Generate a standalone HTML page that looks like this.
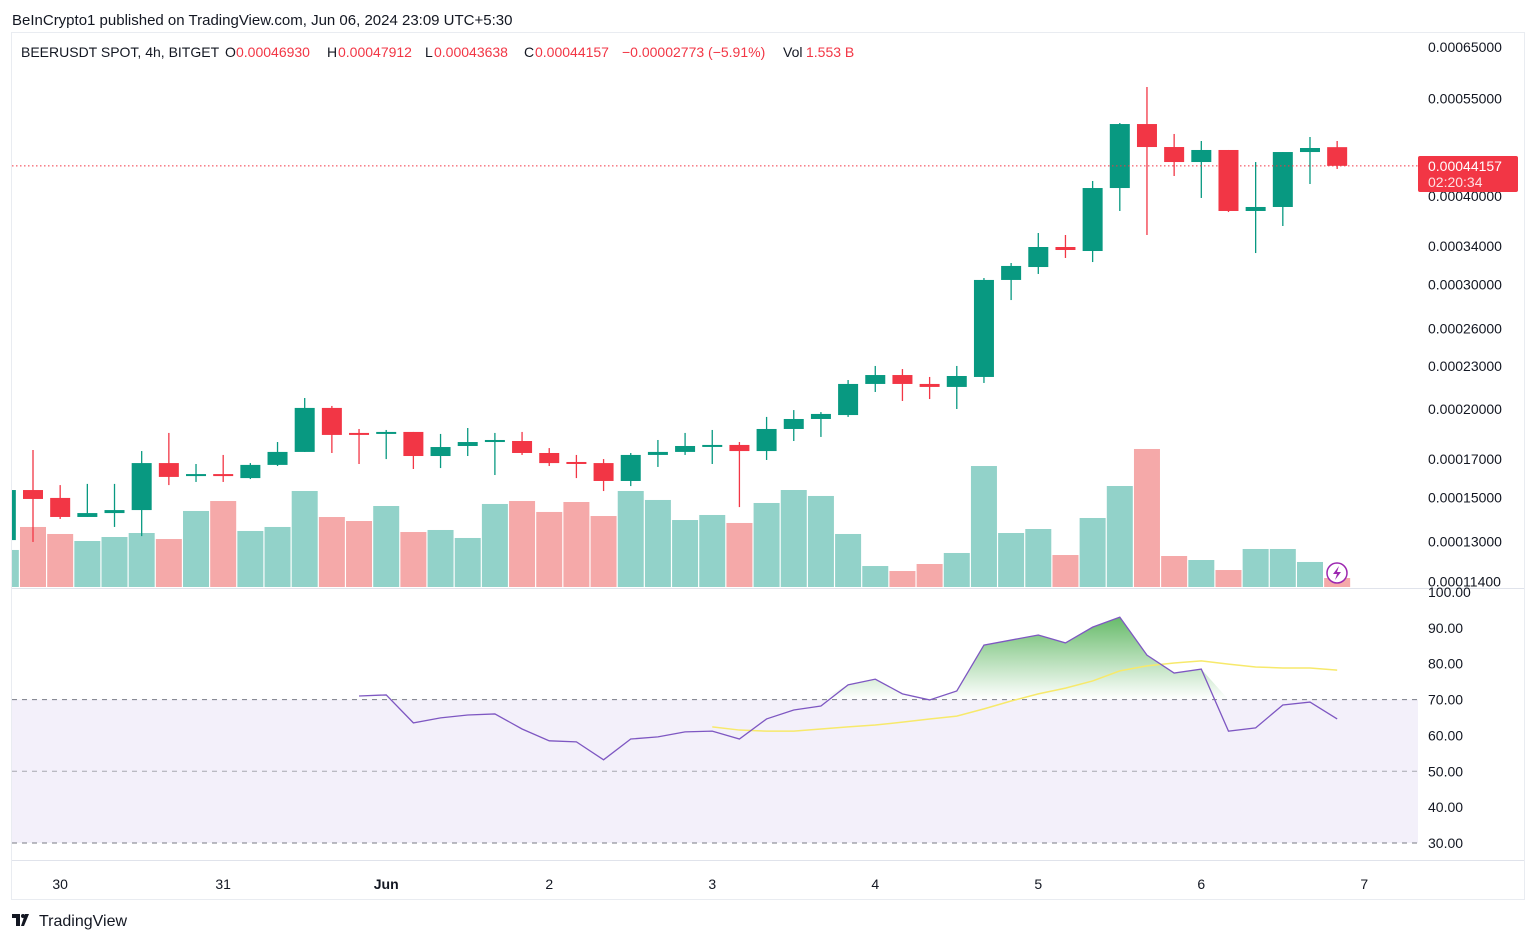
<!DOCTYPE html>
<html><head><meta charset="utf-8">
<style>
html,body{margin:0;padding:0;background:#fff;width:1536px;height:941px;overflow:hidden;font-family:"Liberation Sans",sans-serif;}
svg{position:absolute;left:0;top:0}
</style></head>
<body>
<svg id="c" width="1536" height="941" xmlns="http://www.w3.org/2000/svg"></svg>
<script>
// ---- data (prices ×1e-5) ----
const opens=[13.05,15.36,14.97,14.07,14.25,14.39,16.77,16.08,16.18,15.97,16.67,17.39,20.07,18.50,18.44,18.56,17.16,17.73,17.96,18.02,17.33,16.83,16.77,15.82,17.22,17.39,17.73,17.79,17.44,18.74,19.36,19.61,21.70,22.34,21.70,21.49,22.20,30.45,31.76,33.90,33.46,41.08,50.60,46.95,44.71,46.50,38.12,38.62,46.19,46.93];
const highs=[15.36,17.50,15.61,15.67,15.67,17.44,18.50,16.72,17.22,16.77,17.96,20.73,20.20,18.74,18.68,18.56,18.44,18.80,18.50,18.56,17.61,17.22,16.99,17.33,18.08,18.50,18.68,17.96,19.49,19.93,19.80,21.98,23.01,22.78,22.20,23.01,30.64,32.18,35.48,35.25,42.03,50.77,57.09,48.99,47.88,46.50,44.71,46.19,48.51,47.88];
const lows=[13.05,12.97,13.98,14.07,13.62,13.22,15.61,15.77,15.77,15.92,16.61,17.39,17.33,16.72,16.99,16.45,16.50,17.16,16.13,17.22,16.61,15.97,15.31,15.56,16.56,17.22,16.72,14.53,16.94,18.02,18.26,19.49,21.14,20.53,20.66,20.00,21.77,28.52,31.05,32.71,32.28,38.12,35.25,42.72,39.77,37.99,33.24,36.30,41.62,43.71];
const closes=[15.36,14.92,14.07,14.25,14.39,16.77,16.03,16.18,16.08,16.67,17.39,20.07,18.38,18.44,18.56,17.16,17.67,17.96,18.08,17.33,16.77,16.77,15.82,17.22,17.39,17.73,17.79,17.44,18.74,19.36,19.68,21.70,22.34,21.70,21.49,22.27,30.45,31.87,33.90,33.57,41.08,50.60,46.95,44.71,46.50,38.12,38.62,46.19,46.80,44.16];
const volumes=[6.39,10.36,9.15,7.94,8.63,9.32,8.28,13.12,14.84,9.67,10.36,16.57,12.08,11.39,13.98,9.49,9.84,8.46,14.33,14.84,12.95,14.67,12.25,16.57,15.02,11.56,12.43,11.05,14.50,16.74,15.71,9.15,3.62,2.76,3.97,5.87,20.88,9.32,10.01,5.52,11.91,17.43,23.82,5.35,4.66,2.93,6.56,6.56,4.32,1.553];
const rsiStart=13;
const rsi=[71.0,71.3,63.5,64.9,65.7,66.0,61.8,58.5,58.2,53.2,59.0,59.6,61.0,61.2,59.0,64.6,67.1,68.2,74.1,75.7,71.6,69.9,72.4,85.2,86.6,88.0,85.8,90.2,93.0,82.4,77.4,78.5,61.2,62.1,68.5,69.3,64.6];
const maStart=26;
const rsiMA=[62.4,61.5,61.2,61.2,61.8,62.4,62.9,63.7,64.6,65.4,67.4,69.6,71.6,73.2,75.2,78.0,79.4,80.2,80.8,79.9,79.1,78.8,78.8,78.2];
const priceTicks=[65,55,40,34,30,26,23,20,17,15,13,11.4];
const rsiTicks=[100,90,80,70,60,50,40,30];
const dateLabels=["30","31","Jun","2","3","4","5","6","7"];
const dateIdx=[2,8,14,20,26,32,38,44,50];
const lastPrice=44.157;

// ---- axes ----
const NS="http://www.w3.org/2000/svg";
const svg=document.getElementById('c');
const xS=i=>33+(i-1)*27.17;
const yP=p=>409-307*Math.log(p/20);
const yV=v=>587-v*5.794;
const yR=v=>592+(100-v)*3.586;
function mk(tag,attrs,parent){const e=document.createElementNS(NS,tag);for(const k in attrs)e.setAttribute(k,attrs[k]);(parent||svg).appendChild(e);return e;}

let e;
e=mk('rect',{x:11.5,y:32.5,width:1513,height:867,fill:'none',stroke:'#e9ecf1'});

const defs=mk('defs',{});
const cp=mk('clipPath',{id:'clip'},defs);mk('rect',{x:12,y:33,width:1406,height:555},cp);
const cp2=mk('clipPath',{id:'clip2'},defs);mk('rect',{x:12,y:589,width:1406,height:270},cp2);
const gr=mk('linearGradient',{id:'gg',x1:0,y1:0,x2:0,y2:1},defs);
mk('stop',{offset:'0','stop-color':'#4caf50','stop-opacity':'0.85'},gr);
mk('stop',{offset:'1','stop-color':'#4caf50','stop-opacity':'0'},gr);

// header
e=mk('text',{x:12,y:25,'font-size':15,fill:'#131722'});e.textContent='BeInCrypto1 published on TradingView.com, Jun 06, 2024 23:09 UTC+5:30';

const hdr=mk('g',{'font-size':14});

[[21,'BEERUSDT SPOT, 4h, BITGET','#131722'],[225,'O','#131722'],[236,'0.00046930','#f23645'],[327,'H','#131722'],[338,'0.00047912','#f23645'],[425,'L','#131722'],[434,'0.00043638','#f23645'],[524,'C','#131722'],[535,'0.00044157','#f23645'],[622,'−0.00002773 (−5.91%)','#f23645'],[783,'Vol','#131722'],[806,'1.553 B','#f23645']].forEach(([x,t,c])=>{const s=mk('text',{x:x,y:57,fill:c},hdr);s.textContent=t;});

// main pane
const mg=mk('g',{'clip-path':'url(#clip)'});

volumes.forEach((v,i)=>{const up=closes[i]>=opens[i];const x=xS(i);
 const r=mk('rect',{x:x-13,y:yV(v),width:26,height:587-yV(v),fill:up?'#92d2c9':'#f5a9a9'},mg);
 });
opens.forEach((o,i)=>{const c=closes[i],up=c>=o,col=up?'#089981':'#f23645',x=xS(i);
 const g=mk('g',{},mg);
 mk('line',{x1:x,x2:x,y1:yP(highs[i]),y2:yP(lows[i]),stroke:col,'stroke-width':1.3},g);
 const t=Math.min(yP(o),yP(c)),b=Math.max(yP(o),yP(c));
 mk('rect',{x:x-10,y:t,width:20,height:Math.max(b-t,2),fill:col},g);});
e=mk('line',{x1:12,x2:1418,y1:yP(lastPrice),y2:yP(lastPrice),stroke:'#f23645','stroke-dasharray':'1.5 2.5','stroke-width':1});

const bi=mk('g',{});
mk('circle',{cx:1337,cy:573,r:10,fill:'#fff',stroke:'#9c27b0','stroke-width':1.5},bi);
mk('path',{d:'M1339 566 L1333 574 L1337 574 L1335 580 L1341 572 L1337 572 Z',fill:'#9c27b0'},bi);
mk('line',{x1:12,x2:1524,y1:588.5,y2:588.5,stroke:'#e0e3eb'});

priceTicks.forEach(p=>{const t=mk('text',{x:1428,y:yP(p)+5,'font-size':14,fill:'#131722'});t.textContent=(p*1e-5).toFixed(8);
 });
const lb=mk('g',{});
mk('rect',{x:1418,y:156,width:100,height:36,rx:2,fill:'#f23645'},lb);
e=mk('text',{x:1428,y:171,'font-size':14,fill:'#fff'},lb);e.textContent=(lastPrice*1e-5).toFixed(8);
e=mk('text',{x:1428,y:187,'font-size':14,fill:'#fde0e2'},lb);e.textContent='02:20:34';

// RSI pane
const rg=mk('g',{'clip-path':'url(#clip2)'});
mk('rect',{x:12,y:yR(70),width:1406,height:yR(30)-yR(70),fill:'#f3f0fa'},rg);
[70,50,30].forEach(v=>{const l=mk('line',{x1:12,x2:1418,y1:yR(v),y2:yR(v),stroke:v==50?'#a8a8b0':'#787b86','stroke-dasharray':'5 5','stroke-width':1},rg);
 });
let pts=rsi.map((v,k)=>[xS(rsiStart+k),yR(Math.max(v,70))]);
let d='M'+pts[0][0]+' '+yR(70)+' '+pts.map(p=>'L'+p[0]+' '+p[1]).join(' ')+' L'+pts[pts.length-1][0]+' '+yR(70)+'Z';
const of=mk('path',{d:d,fill:'url(#gg)'},rg);

e=mk('polyline',{points:rsiMA.map((v,k)=>xS(maStart+k)+','+yR(v)).join(' '),fill:'none',stroke:'#f7e96b','stroke-width':1.5},rg);

e=mk('polyline',{points:rsi.map((v,k)=>xS(rsiStart+k)+','+yR(v)).join(' '),fill:'none',stroke:'#7e57c2','stroke-width':1.3},rg);

rsiTicks.forEach(v=>{const t=mk('text',{x:1428,y:yR(v)+5,'font-size':14,fill:'#131722'});t.textContent=v.toFixed(2);
 });
mk('line',{x1:12,x2:1524,y1:860.5,y2:860.5,stroke:'#e0e3eb'});

dateLabels.forEach((s,k)=>{const t=mk('text',{x:xS(dateIdx[k]),y:889,'font-size':14,fill:'#131722','text-anchor':'middle','font-weight':s=='Jun'?'bold':'normal'});t.textContent=s;
 });

const lg=mk('g',{});
mk('path',{d:'M12 914 h8 v12 h-4 v-8 h-4 z M25 914 l4 0 -5 12 -3 0 z',fill:'#131722'},lg);
mk('circle',{cx:23,cy:916,r:2,fill:'#131722'},lg);
e=mk('text',{x:39,y:926,'font-size':16,fill:'#131722'},lg);e.textContent='TradingView';
</script>
</body></html>
